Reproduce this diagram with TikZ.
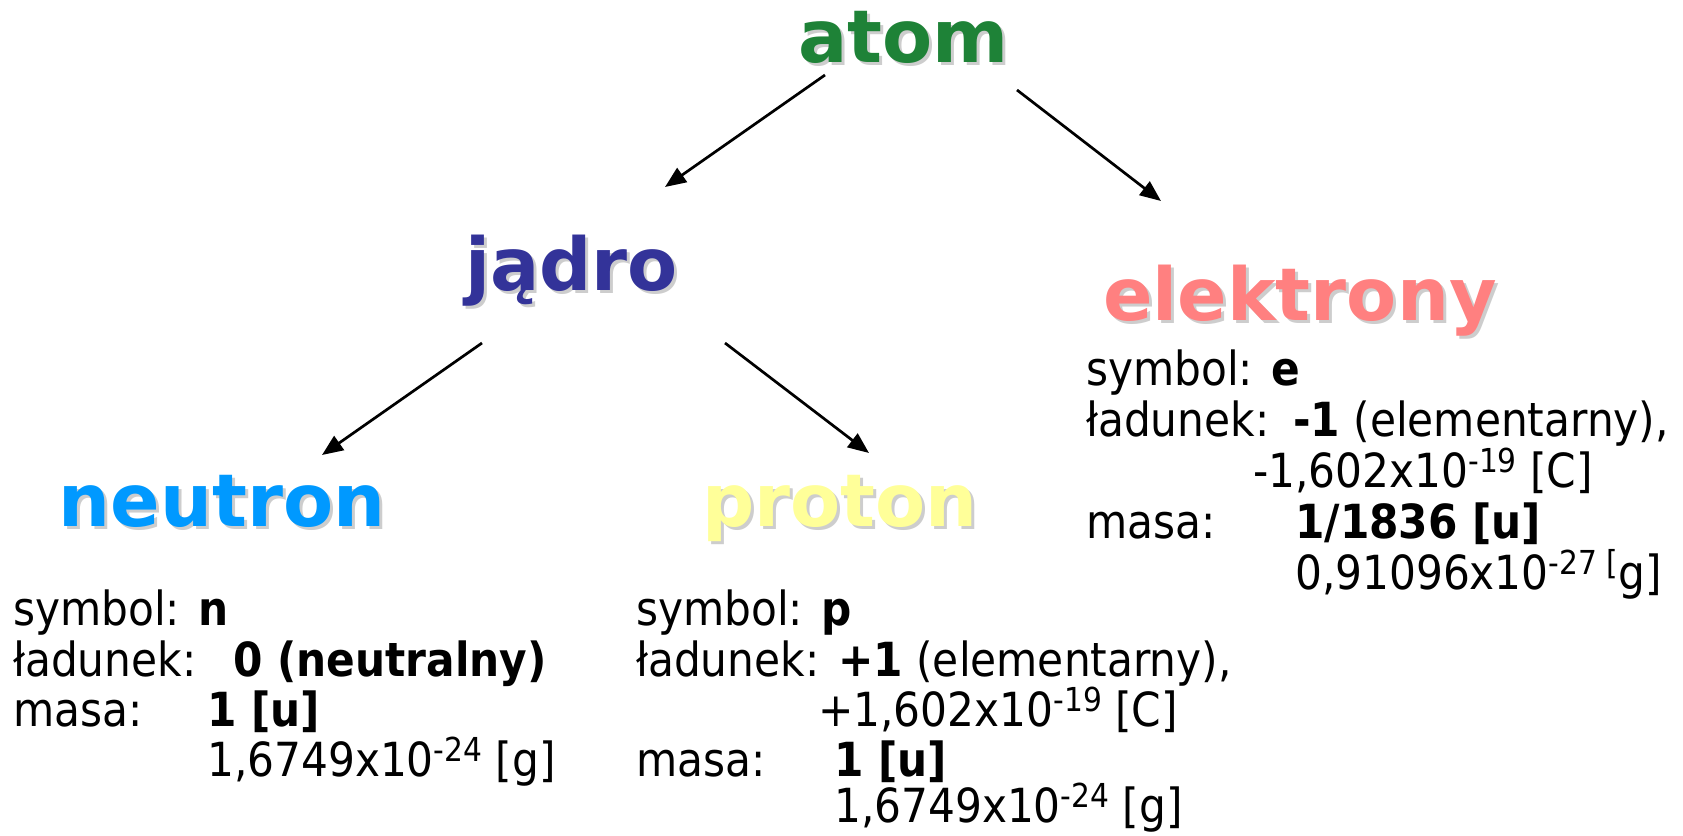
\documentclass[tikz,border=0pt]{standalone}
\usepackage{fontspec}
\setmainfont{DejaVu Sans Condensed}
\newfontfamily\titlefont{DejaVu Sans}
\usetikzlibrary{arrows.meta}

\definecolor{atomgreen}{RGB}{30,130,55}
\definecolor{nucleusblue}{RGB}{51,51,153}
\definecolor{electronpink}{RGB}{255,128,128}
\definecolor{neutronblue}{RGB}{0,153,255}
\definecolor{protonyellow}{RGB}{255,255,153}
\definecolor{titleshadow}{RGB}{205,205,205}

% raised exponent in a smaller size
\newcommand{\expo}[1]{\raisebox{0.30em}{\fontsize{33}{34}\selectfont #1}}

\tikzset{
  title/.style={anchor=base, inner sep=0pt,
    font=\titlefont\bfseries\fontsize{73}{80}\selectfont},
  shade/.style={title, text=titleshadow},
  body/.style={anchor=base west, inner sep=0pt,
    font=\fontsize{47}{52}\selectfont},
  link/.style={line width=2.7pt, -{Triangle[length=21pt,width=17pt]}}
}

\begin{document}
\begin{tikzpicture}[x=1pt,y=-1pt]
\useasboundingbox (0,0) rectangle (1683,835);

% headings with a soft drop shadow
\node[shade] (atom-sh)      at (906.5,65)   {atom};
\node[title, text=atomgreen] (atom) at (903.5,62) {atom};
\node[shade] (jadro-sh)     at (574.5,293)  {jądro};
\node[title, text=nucleusblue] (jadro) at (571.5,290) {jądro};
\node[shade] (elek-sh)      at (1303,323) {elektrony};
\node[title, text=electronpink] (elek) at (1300,320) {elektrony};
\node[shade] (neut-sh)      at (225,529) {neutron};
\node[title, text=neutronblue] (neut) at (222,526) {neutron};
\node[shade] (prot-sh)      at (843,529) {proton};
\node[title, text=protonyellow] (prot) at (840,526) {proton};

% arrow end points
\coordinate (atom-l) at (825,75);   \coordinate (jadro-in) at (665,187);
\coordinate (atom-r) at (1017,90);  \coordinate (elek-in)  at (1161,201);
\coordinate (jadro-l) at (482,343); \coordinate (neut-in)  at (322,455);
\coordinate (jadro-r) at (725,343); \coordinate (prot-in)  at (869,453);

\draw[link] (atom-l) -- (jadro-in);
\draw[link] (atom-r) -- (elek-in);
\draw[link] (jadro-l) -- (neut-in);
\draw[link] (jadro-r) -- (prot-in);

% neutron data
\node[body] (n-sym)  at (13,625)  {symbol: \textbf{n}};
\node[body] (n-chg)  at (13,676)  {ładunek:};
\node[body] (n-chgv) at (233,676) {\textbf{0 (neutralny)}};
\node[body] (n-mas)  at (13,726)  {masa:};
\node[body] (n-masu) at (207,726) {\textbf{1 [u]}};
\node[body] (n-masg) at (207,776) {1,6749x10\expo{-24} [g]};

% proton data
\node[body] (p-sym)  at (636,625) {symbol: \textbf{p}};
\node[body] (p-chg)  at (636,676) {ładunek:};
\node[body] (p-chgv) at (838,676) {\textbf{+1} (elementarny),};
\node[body] (p-chgc) at (818,726) {+1,602x10\expo{-19} [C]};
\node[body] (p-mas)  at (636,776) {masa:};
\node[body] (p-masu) at (834,776) {\textbf{1 [u]}};
\node[body] (p-masg) at (834,822) {1,6749x10\expo{-24} [g]};

% electron data
\node[body] (e-sym)  at (1086,385) {symbol: \textbf{e}};
\node[body] (e-chg)  at (1086,436) {ładunek:};
\node[body] (e-chgv) at (1293,436) {\textbf{-1} (elementarny),};
\node[body] (e-chgc) at (1253,487) {-1,602x10\expo{-19} [C]};
\node[body] (e-mas)  at (1086,538) {masa:};
\node[body] (e-masu) at (1295,538) {\textbf{1/1836 [u]}};
\node[body] (e-masg) at (1295,589) {0,91096x10\expo{-27 [}g]};
\end{tikzpicture}
\end{document}
